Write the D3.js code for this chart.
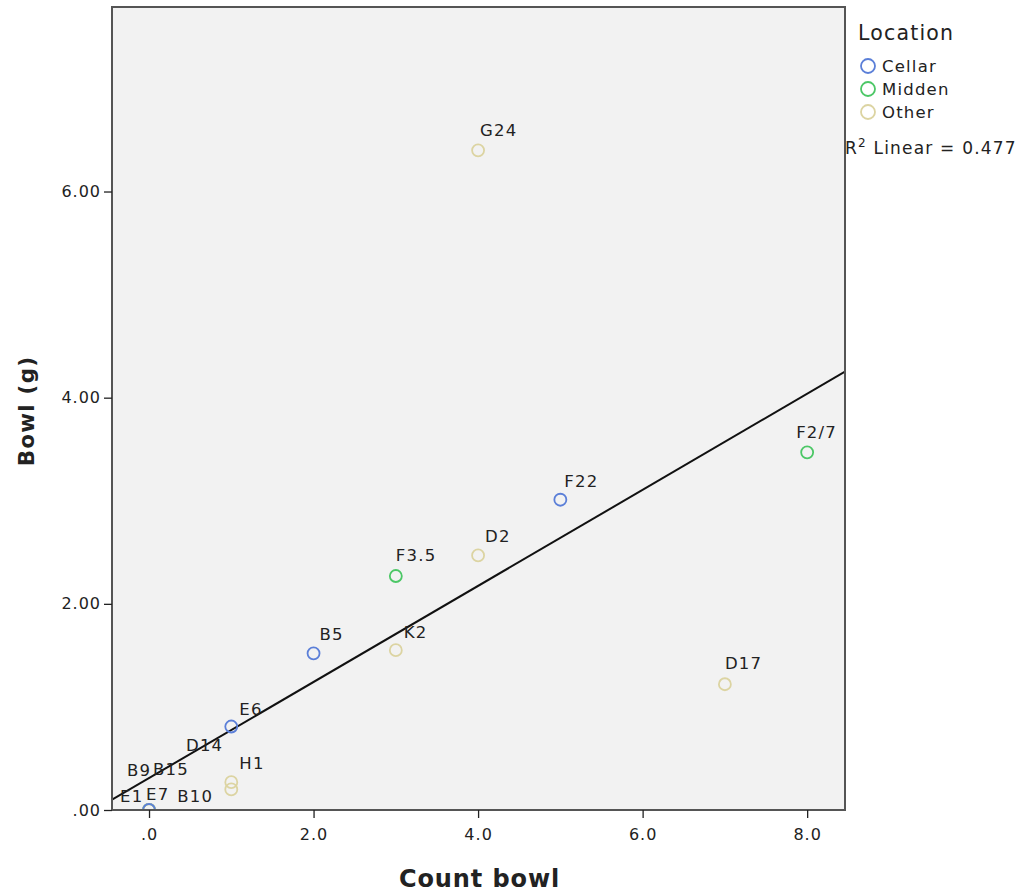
<!DOCTYPE html>
<html>
<head>
<meta charset="utf-8">
<script src="https://cdn.jsdelivr.net/npm/d3@7"></script>
<style>
  body { margin:0; background:#fff; }
  text { font-family:"DejaVu Sans", sans-serif; fill:#222; }
</style>
</head>
<body>
<div id="chart"></div>
<script>
// data
const names      = ["E1","E7","B9","B15","D14","E6","H1","B10","B5","K2","F3.5","D2","F22","G24","D17","F2/7"];
const countBowl  = [0, 0, 0, 0, 0, 1, 1, 1, 2, 3, 3, 4, 5, 4, 7, 8];
const bowlG      = [0, 0, 0, 0, 0, 0.81, 0.27, 0.20, 1.52, 1.55, 2.27, 2.47, 3.01, 6.40, 1.22, 3.47];
const locationOf = ["Other","Other","Midden","Other","Cellar","Cellar","Other","Other","Cellar","Other","Midden","Other","Cellar","Other","Other","Midden"];
const locations  = ["Cellar","Midden","Other"];
const xTicks     = [0, 2, 4, 6, 8];
const yTicks     = [0, 2, 4, 6];
const fitIntercept = 0.31, fitSlope = 0.466, rSquared = 0.477;

// label placement (px offset from the point), SPSS spreads overlapping labels
const labelDx = [-29, -3, -22, 4, 37, 8, 8, -54, 6, 8, 0, 7, 4, 2, 0, -11];
const labelDy = [-8, -10, -34, -35, -59, -12, -13, 13, -13, -12, -15, -13, -13, -14, -15, -14];

const colors = {Cellar:"#5b7fd8", Midden:"#4cc766", Other:"#dcd4a2"};

const width = 1027, height = 896;
const plot = {left:112, right:845, top:7, bottom:810};

const svg = d3.select("#chart").append("svg")
  .attr("width", width).attr("height", height);

const x = d3.scaleLinear().domain([-0.45, 8.46]).range([plot.left, plot.right]);
const y = d3.scaleLinear().domain([0, 7.79]).range([plot.bottom, plot.top]);

svg.append("defs").append("clipPath").attr("id","clip")
  .append("rect").attr("x",plot.left).attr("y",plot.top)
  .attr("width",plot.right-plot.left).attr("height",plot.bottom-plot.top);

// plot background
svg.append("rect")
  .attr("x",plot.left).attr("y",plot.top)
  .attr("width",plot.right-plot.left).attr("height",plot.bottom-plot.top)
  .attr("fill","#f2f2f2");

// fit line
const xd = x.domain();
svg.append("line")
  .attr("clip-path","url(#clip)")
  .attr("x1",x(xd[0])).attr("y1",y(fitIntercept+fitSlope*xd[0]))
  .attr("x2",x(xd[1])).attr("y2",y(fitIntercept+fitSlope*xd[1]))
  .attr("stroke","#111").attr("stroke-width",2);

const pts = names.map((n,i)=>({name:n, cx:countBowl[i], cy:bowlG[i], loc:locationOf[i], dx:labelDx[i], dy:labelDy[i]}));

// points
svg.append("g").attr("clip-path","url(#clip)")
  .selectAll("circle").data(pts).join("circle")
    .attr("cx",d=>x(d.cx)).attr("cy",d=>y(d.cy)).attr("r",6)
    .attr("fill","none").attr("stroke",d=>colors[d.loc]).attr("stroke-width",1.8);

// labels
svg.append("g").selectAll("text").data(pts).join("text")
  .attr("x",d=>x(d.cx)+d.dx).attr("y",d=>y(d.cy)+d.dy)
  .attr("font-size",16.5).attr("letter-spacing",1.2)
  .text(d=>d.name);

// frame
svg.append("rect")
  .attr("x",plot.left).attr("y",plot.top)
  .attr("width",plot.right-plot.left).attr("height",plot.bottom-plot.top)
  .attr("fill","none").attr("stroke","#555").attr("stroke-width",2);

// axes
const fmtY = d => d===0 ? ".00" : d3.format(".2f")(d);
const fmtX = d => d===0 ? ".0" : d3.format(".1f")(d);

svg.append("g")
  .attr("transform",`translate(0,${plot.bottom})`)
  .call(d3.axisBottom(x).tickValues(xTicks).tickFormat(fmtX).tickSize(8).tickPadding(11))
  .call(g=>g.select(".domain").remove())
  .call(g=>g.selectAll(".tick line").attr("stroke","#222").attr("stroke-width",1.3))
  .call(g=>g.selectAll("text").attr("font-size",16).attr("letter-spacing",1)
    .attr("fill","#222").attr("font-family","DejaVu Sans"));

svg.append("g")
  .attr("transform",`translate(${plot.left},0)`)
  .call(d3.axisLeft(y).tickValues(yTicks).tickFormat(fmtY).tickSize(8).tickPadding(3))
  .call(g=>g.select(".domain").remove())
  .call(g=>g.selectAll(".tick line").attr("stroke","#222").attr("stroke-width",1.3))
  .call(g=>g.selectAll("text").attr("font-size",16).attr("letter-spacing",1)
    .attr("fill","#222").attr("font-family","DejaVu Sans"));

// axis titles
svg.append("text")
  .attr("x",(plot.left+plot.right)/2+1).attr("y",887)
  .attr("text-anchor","middle").attr("font-size",24).attr("font-weight","bold")
  .attr("letter-spacing",0.9)
  .text("Count bowl");

svg.append("text")
  .attr("transform","translate(34,411) rotate(-90)")
  .attr("text-anchor","middle").attr("font-size",21.5).attr("font-weight","bold")
  .attr("letter-spacing",1.2)
  .text("Bowl (g)");

// legend
svg.append("text").attr("x",858).attr("y",40)
  .attr("font-size",20.5).attr("letter-spacing",1.2).text("Location");

const leg = svg.append("g").selectAll("g").data(locations).join("g")
  .attr("transform",(d,i)=>`translate(868,${66+i*23})`);
leg.append("circle").attr("r",7).attr("fill","none")
  .attr("stroke",d=>colors[d]).attr("stroke-width",1.8);
leg.append("text").attr("x",14).attr("y",6)
  .attr("font-size",16.5).attr("letter-spacing",1.2).text(d=>d);

const r2 = svg.append("text").attr("x",845).attr("y",154)
  .attr("font-size",17).attr("letter-spacing",1.2);
r2.append("tspan").text("R");
r2.append("tspan").attr("dy",-7).attr("font-size",12).text("2");
r2.append("tspan").attr("dy",7).text(" Linear = " + rSquared);
</script>
</body>
</html>
